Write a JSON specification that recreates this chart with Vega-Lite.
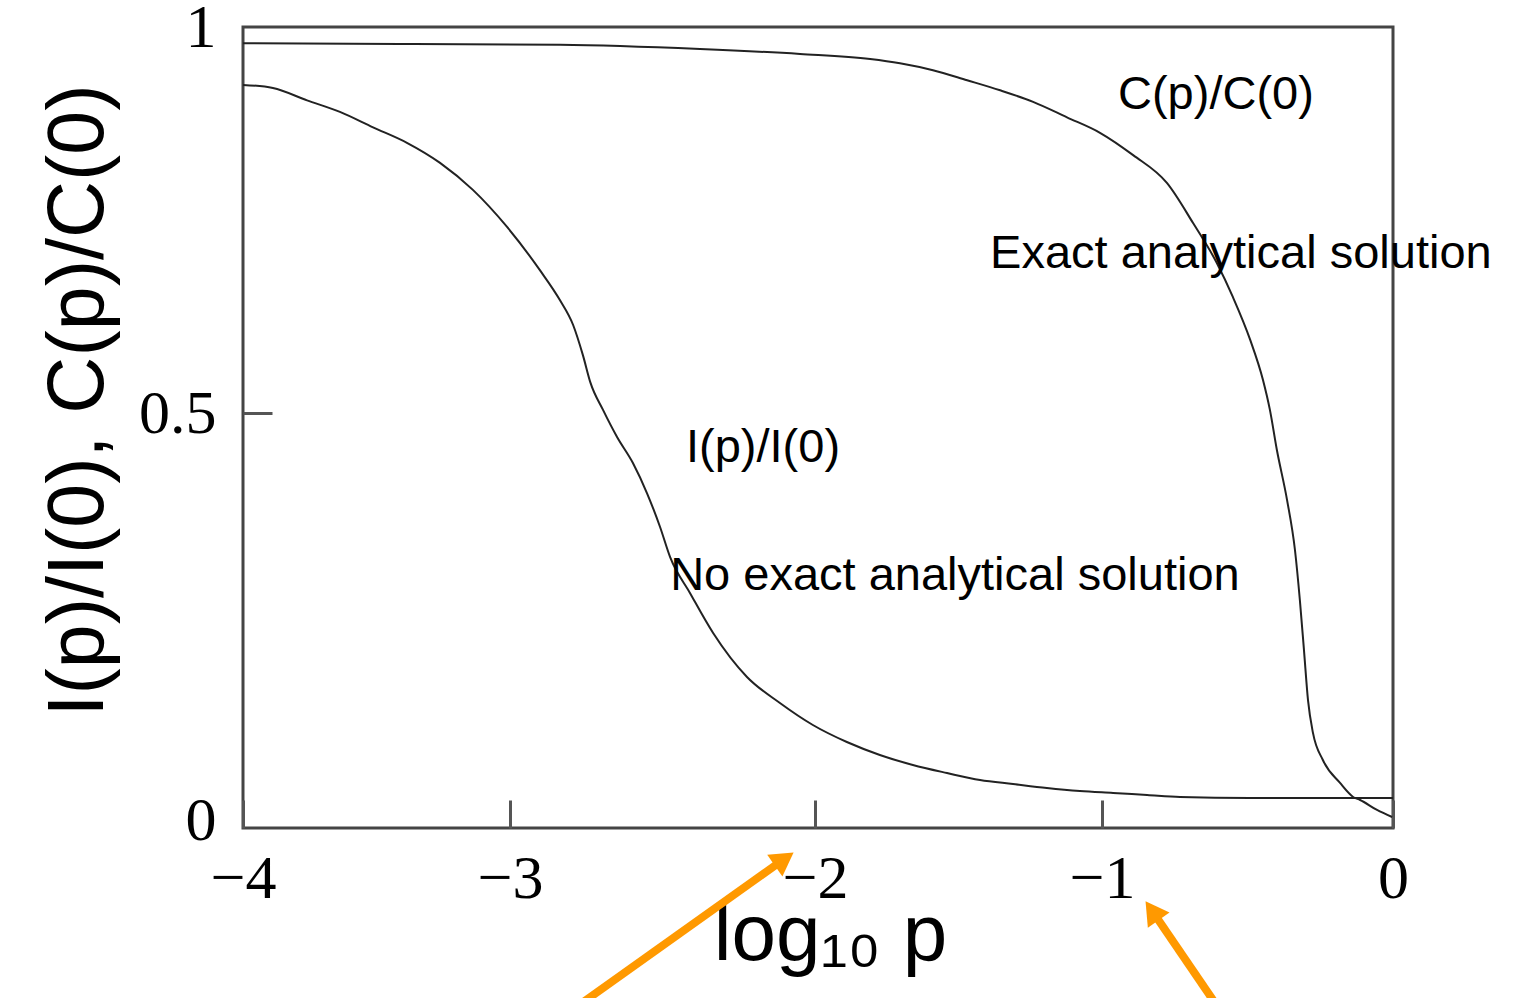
{
  "$schema": "https://vega.github.io/schema/vega-lite/v6.json",
  "width": 1150,
  "height": 801,
  "autosize": {"type": "none"},
  "padding": {"left": 243, "top": 27, "right": 121, "bottom": 170},
  "background": "white",
  "config": {
    "view": {"stroke": "#444444", "strokeWidth": 3},
    "axis": {"domain": false, "grid": false}
  },
  "datasets": {
    "curves": [
      {"series": "I", "x": -4.0, "y": 0.925},
      {"series": "I", "x": -3.888, "y": 0.921},
      {"series": "I", "x": -3.76, "y": 0.905},
      {"series": "I", "x": -3.637, "y": 0.89},
      {"series": "I", "x": -3.513, "y": 0.87},
      {"series": "I", "x": -3.386, "y": 0.85},
      {"series": "I", "x": -3.262, "y": 0.824},
      {"series": "I", "x": -3.139, "y": 0.789},
      {"series": "I", "x": -3.011, "y": 0.741},
      {"series": "I", "x": -2.902, "y": 0.685},
      {"series": "I", "x": -2.836, "y": 0.646},
      {"series": "I", "x": -2.793, "y": 0.614},
      {"series": "I", "x": -2.761, "y": 0.575},
      {"series": "I", "x": -2.736, "y": 0.539},
      {"series": "I", "x": -2.695, "y": 0.504},
      {"series": "I", "x": -2.649, "y": 0.4705},
      {"series": "I", "x": -2.597, "y": 0.4386},
      {"series": "I", "x": -2.551, "y": 0.4017},
      {"series": "I", "x": -2.508, "y": 0.36},
      {"series": "I", "x": -2.475, "y": 0.323},
      {"series": "I", "x": -2.41, "y": 0.279},
      {"series": "I", "x": -2.334, "y": 0.2297},
      {"series": "I", "x": -2.223, "y": 0.1757},
      {"series": "I", "x": -2.115, "y": 0.1437},
      {"series": "I", "x": -2.007, "y": 0.1167},
      {"series": "I", "x": -1.889, "y": 0.0958},
      {"series": "I", "x": -1.774, "y": 0.0799},
      {"series": "I", "x": -1.659, "y": 0.0676},
      {"series": "I", "x": -1.54, "y": 0.0577},
      {"series": "I", "x": -1.425, "y": 0.0491},
      {"series": "I", "x": -1.31, "y": 0.0442},
      {"series": "I", "x": -1.192, "y": 0.0393},
      {"series": "I", "x": -1.077, "y": 0.0356},
      {"series": "I", "x": -0.962, "y": 0.0332},
      {"series": "I", "x": -0.845, "y": 0.0307},
      {"series": "I", "x": -0.732, "y": 0.0283},
      {"series": "I", "x": -0.491, "y": 0.027},
      {"series": "I", "x": -0.251, "y": 0.027},
      {"series": "I", "x": 0.0, "y": 0.027},
      {"series": "C", "x": -4.0, "y": 0.979},
      {"series": "C", "x": -3.412, "y": 0.978},
      {"series": "C", "x": -2.836, "y": 0.977},
      {"series": "C", "x": -2.377, "y": 0.9715},
      {"series": "C", "x": -2.049, "y": 0.965},
      {"series": "C", "x": -1.808, "y": 0.9585},
      {"series": "C", "x": -1.704, "y": 0.953},
      {"series": "C", "x": -1.589, "y": 0.944},
      {"series": "C", "x": -1.47, "y": 0.931},
      {"series": "C", "x": -1.355, "y": 0.918},
      {"series": "C", "x": -1.24, "y": 0.903},
      {"series": "C", "x": -1.122, "y": 0.883},
      {"series": "C", "x": -1.007, "y": 0.863},
      {"series": "C", "x": -0.893, "y": 0.834},
      {"series": "C", "x": -0.777, "y": 0.798},
      {"series": "C", "x": -0.687, "y": 0.746},
      {"series": "C", "x": -0.605, "y": 0.694},
      {"series": "C", "x": -0.55, "y": 0.65},
      {"series": "C", "x": -0.491, "y": 0.595},
      {"series": "C", "x": -0.447, "y": 0.543},
      {"series": "C", "x": -0.423, "y": 0.504},
      {"series": "C", "x": -0.399, "y": 0.4545},
      {"series": "C", "x": -0.364, "y": 0.393},
      {"series": "C", "x": -0.337, "y": 0.332},
      {"series": "C", "x": -0.32, "y": 0.27},
      {"series": "C", "x": -0.306, "y": 0.209},
      {"series": "C", "x": -0.292, "y": 0.147},
      {"series": "C", "x": -0.275, "y": 0.107},
      {"series": "C", "x": -0.241, "y": 0.0737},
      {"series": "C", "x": -0.182, "y": 0.0455},
      {"series": "C", "x": -0.137, "y": 0.0283},
      {"series": "C", "x": -0.113, "y": 0.0246},
      {"series": "C", "x": -0.055, "y": 0.0123},
      {"series": "C", "x": -0.003, "y": 0.0037}
    ],
    "labels": [
      {"x": -0.945, "y": 0.8938, "text": "C(p)/C(0)"},
      {"x": -1.39, "y": 0.6878, "text": "Exact analytical solution"},
      {"x": -2.423, "y": 0.4398, "text": "I(p)/I(0)"},
      {"x": -2.475, "y": 0.2826, "text": "No exact analytical solution"}
    ],
    "arrows": [
      {"x": -2.757, "y": -0.223, "x2": -2.101, "y2": -0.048},
      {"x": -0.6117, "y": -0.2248, "x2": -0.8278, "y2": -0.1114}
    ],
    "head1": [{"x": -2.101, "y": -0.048}],
    "head2": [{"x": -0.8278, "y": -0.1114}]
  },
  "encoding": {
    "x": {
      "field": "x",
      "type": "quantitative",
      "scale": {"domain": [-4, -3, -2, -1, 0], "range": [0, 267, 572, 859, 1150], "nice": false, "zero": false},
      "axis": {
        "values": [-4, -3, -2, -1, 0],
        "labelExpr": "replace(datum.value + '', '-', '\u2212')",
        "labelFont": "Liberation Serif",
        "labelFontSize": 62,
        "labelColor": "#000000",
        "labelPadding": 48,
        "labelFlush": false,
        "tickSize": -28,
        "tickWidth": 3,
        "tickColor": "#555555",
        "title": "log\u2081\u2080 p",
        "titleFont": "Liberation Sans",
        "titleFontSize": 80,
        "titleFontWeight": "normal",
        "titleColor": "#000000",
        "titleX": 587,
        "titleY": 131,
        "titleAlign": "center",
        "titleBaseline": "alphabetic"
      }
    },
    "y": {
      "field": "y",
      "type": "quantitative",
      "scale": {"domain": [-0.00983, 0, 0.5, 1], "range": [801, 793, 386, 0], "nice": false, "zero": false},
      "axis": {
        "values": [0, 0.5, 1],
        "labelExpr": "datum.value + ''",
        "labelFont": "Liberation Serif",
        "labelFontSize": 62,
        "labelColor": "#000000",
        "labelPadding": 56,
        "labelFlush": false,
        "tickSize": -29,
        "tickWidth": 3,
        "tickColor": "#555555",
        "tickOpacity": {"condition": {"test": "datum.value == 0.5", "value": 1}, "value": 0},
        "title": "I(p)/I(0), C(p)/C(0)",
        "titleFont": "Liberation Sans",
        "titleFontSize": 79,
        "titleFontWeight": "normal",
        "titleColor": "#000000",
        "titleAngle": -90,
        "titleX": -141,
        "titleY": 373,
        "titleAlign": "center",
        "titleBaseline": "alphabetic"
      }
    }
  },
  "layer": [
    {
      "data": {"name": "curves"},
      "mark": {"type": "line", "color": "#222222", "strokeWidth": 2, "interpolate": "monotone"},
      "encoding": {"detail": {"field": "series"}}
    },
    {
      "data": {"name": "labels"},
      "mark": {"type": "text", "font": "Liberation Sans", "fontSize": 47, "align": "left", "baseline": "alphabetic", "color": "#000000"},
      "encoding": {"text": {"field": "text"}}
    },
    {
      "data": {"name": "arrows"},
      "mark": {"type": "rule", "color": "#FF9900", "strokeWidth": 8, "strokeCap": "butt", "clip": false},
      "encoding": {"x2": {"field": "x2"}, "y2": {"field": "y2"}}
    },
    {
      "data": {"name": "head1"},
      "mark": {"type": "point", "shape": "triangle-up", "filled": true, "color": "#FF9900", "opacity": 1, "size": 700, "angle": 55}
    },
    {
      "data": {"name": "head2"},
      "mark": {"type": "point", "shape": "triangle-up", "filled": true, "color": "#FF9900", "opacity": 1, "size": 700, "angle": 325}
    }
  ]
}
